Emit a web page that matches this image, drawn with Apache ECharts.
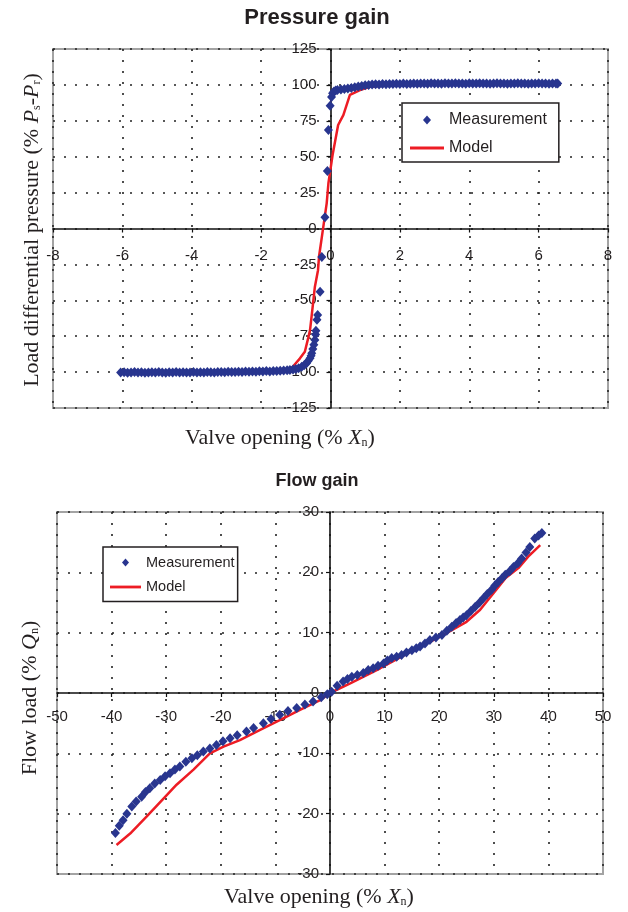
<!DOCTYPE html>
<html>
<head>
<meta charset="utf-8">
<script src="https://cdn.jsdelivr.net/npm/echarts@6/dist/echarts.min.js"></script>
<style>
html,body{margin:0;padding:0;background:#fff;}
#chart{width:628px;height:912px;}
</style>
</head>
<body>
<div id="chart"></div>
<script>
// ---------------- DATA ----------------
// Pressure gain chart: axis ranges [min, max, interval]
const pressureXAxisRange = [-8, 8, 2];
const pressureYAxisRange = [-125, 125, 25];
// Flow gain chart: axis ranges
const flowXAxisRange = [-50, 50, 10];
const flowYAxisRange = [-30, 30, 10];

const seriesNames = ['Measurement', 'Model'];

// Pressure gain – measured points [valve opening %Xn, load diff. pressure %]
const pressureMeasured = [
  [-6.05,-100.3],[-5.95,-100.1],[-5.85,-100.4],[-5.75,-100.2],[-5.65,-100.0],[-5.55,-100.3],[-5.45,-100.1],
  [-5.35,-100.4],[-5.25,-100.2],[-5.15,-100.1],[-5.05,-100.3],[-4.95,-100.0],[-4.85,-100.2],[-4.75,-100.4],
  [-4.65,-100.1],[-4.55,-100.3],[-4.45,-100.0],[-4.35,-100.2],[-4.25,-100.1],[-4.15,-100.3],[-4.05,-100.2],
  [-3.95,-100.0],[-3.85,-100.3],[-3.75,-100.1],[-3.65,-100.2],[-3.55,-99.9],[-3.45,-100.1],[-3.35,-100.2],
  [-3.25,-99.9],[-3.15,-100.0],[-3.05,-100.1],[-2.95,-99.8],[-2.85,-100.0],[-2.75,-99.9],[-2.65,-99.7],
  [-2.55,-99.9],[-2.45,-99.6],[-2.35,-99.8],[-2.25,-99.5],[-2.15,-99.7],[-2.05,-99.4],[-1.95,-99.6],
  [-1.85,-99.3],[-1.75,-99.5],[-1.65,-99.2],[-1.55,-99.3],[-1.45,-99.0],[-1.35,-98.9],[-1.25,-98.7],
  [-1.17,-98.5],[-1.08,-98.2],[-1.00,-97.9],[-0.92,-97.3],[-0.83,-96.2],[-0.76,-95.2],[-0.69,-93.9],
  [-0.64,-92.1],[-0.59,-90.4],[-0.56,-88.6],[-0.54,-86.9],[-0.51,-84.0],[-0.48,-80.9],[-0.45,-77.6],
  [-0.43,-73.8],[-0.42,-71.2],[-0.39,-63.5],[-0.37,-60.2],[-0.30,-44.0],[-0.25,-19.8],[-0.16,7.8],
  [-0.09,40.0],[-0.06,68.6],[-0.01,85.5],[0.03,91.6],[0.06,94.2],[0.10,95.4],[0.15,96.1],
  [0.2,96.4],[0.3,96.8],[0.4,97.1],[0.5,97.5],[0.6,97.9],[0.7,98.4],[0.8,98.8],[0.9,99.3],[1.0,99.7],
  [1.1,100.0],[1.2,100.3],[1.3,100.4],[1.4,100.3],[1.5,100.6],[1.6,100.5],[1.7,100.7],[1.8,100.6],
  [1.9,100.8],[2.0,100.7],[2.1,100.9],[2.2,100.7],[2.3,100.8],[2.4,101.0],[2.5,100.8],[2.6,100.9],
  [2.7,101.0],[2.8,100.8],[2.9,101.1],[3.0,100.9],[3.1,101.0],[3.2,100.8],[3.3,101.1],[3.4,100.9],
  [3.5,101.0],[3.6,101.1],[3.7,100.9],[3.8,101.0],[3.9,100.8],[4.0,101.1],[4.1,100.9],[4.2,101.0],
  [4.3,101.1],[4.4,100.9],[4.5,101.0],[4.6,100.8],[4.7,101.0],[4.8,101.1],[4.9,100.9],[5.0,101.0],
  [5.1,100.8],[5.2,101.0],[5.3,100.9],[5.4,101.1],[5.5,100.9],[5.6,101.0],[5.7,100.8],[5.8,101.0],
  [5.9,100.9],[6.0,101.1],[6.1,100.9],[6.2,101.0],[6.3,100.8],[6.4,101.0],[6.5,100.9],[6.55,101.0]
];

// Pressure gain – model curve
const pressureModel = [
  [-1.3,-98.6],[-1.1,-96.6],[-0.88,-90.4],[-0.74,-85.8],[-0.64,-76.0],[-0.59,-70.7],[-0.54,-60.2],
  [-0.45,-40.5],[-0.36,-29.0],[-0.33,-19.5],[-0.22,-1.0],[-0.11,17.5],[-0.06,31.5],[0.06,51.2],
  [0.22,72.1],[0.37,79.0],[0.56,93.0],[0.85,96.4],[1.14,98.7],[1.52,99.4]
];

// Flow gain – measured points [valve opening %Xn, flow load %Qn]
const flowMeasured = [
  [-39.3,-23.2],[-38.6,-22.0],[-37.9,-21.1],[-37.2,-20.0],[-36.3,-18.8],[-35.5,-18.0],[-34.5,-17.2],
  [-33.8,-16.4],[-33.0,-15.8],[-32.1,-15.0],[-31.1,-14.4],[-30.2,-13.8],[-29.3,-13.3],[-28.4,-12.7],
  [-27.5,-12.2],[-26.4,-11.4],[-25.3,-10.8],[-24.3,-10.3],[-23.2,-9.7],[-22.0,-9.2],[-20.8,-8.6],
  [-19.6,-8.0],[-18.3,-7.5],[-17.0,-7.0],[-15.3,-6.4],[-14.0,-5.8],[-12.2,-5.0],[-10.8,-4.3],
  [-9.2,-3.6],[-7.7,-3.0],[-6.1,-2.5],[-4.6,-1.9],[-3.1,-1.4],[-1.6,-0.7],[-0.5,-0.2],
  [0.3,0.2],[1.3,1.2],[2.4,1.9],[3.2,2.3],[4.0,2.7],[5.0,3.0],[6.1,3.3],[7.0,3.8],[7.9,4.1],
  [8.8,4.5],[9.8,4.9],[10.5,5.4],[11.3,5.8],[12.2,6.0],[13.1,6.3],[14.0,6.7],[15.0,7.1],[15.8,7.4],
  [16.5,7.7],[17.4,8.2],[18.3,8.8],[19.4,9.2],[20.5,9.6],[21.4,10.3],[22.3,11.0],[23.1,11.6],
  [23.8,12.1],[24.4,12.5],[25.0,12.9],[25.8,13.6],[26.6,14.3],[27.4,15.0],[28.1,15.7],[28.8,16.4],
  [29.6,17.1],[30.2,17.8],[30.8,18.4],[31.5,19.0],[32.1,19.6],[32.9,20.2],[33.6,20.9],[34.4,21.5],
  [35.1,22.3],[35.9,23.3],[36.6,24.2],[37.5,25.6],[38.2,26.1],[38.8,26.5]
];

// Flow gain – model curve
const flowModel = [
  [-39.1,-25.2],[-36.6,-23.3],[-33.6,-20.5],[-30.5,-17.5],[-28.1,-15.2],[-25.0,-12.7],[-22.0,-10.0],
  [-19.5,-8.9],[-16.5,-7.8],[-12.8,-6.1],[-9.2,-4.5],[-5.5,-2.8],[-1.8,-1.2],[0,0],[3.7,1.6],
  [9.2,4.1],[15.3,7.1],[20.1,9.3],[25.0,11.8],[27.5,13.8],[29.9,16.5],[32.1,19.0],[34.5,20.7],
  [36.3,22.6],[38.5,24.5]
];

// ---------------- STYLE / LAYOUT ----------------
const TEXT = '#231f20';
const BLUE = '#28358f';
const RED = '#ed1c24';
const SANS = '"Liberation Sans", Arial, sans-serif';
const SERIF = '"Liberation Serif", "Times New Roman", serif';

const grids = [
  { left: 53, top: 49, width: 555, height: 359 },
  { left: 57, top: 512, width: 546, height: 362 }
];

// distance from the grid's left (or bottom) edge to the zero of the axis
function zeroShift(range, size) { return size * (0 - range[0]) / (range[1] - range[0]); }

function valueAxis(gridIndex, range, labelMargin, offset) {
  return {
    type: 'value', gridIndex: gridIndex,
    min: range[0], max: range[1], interval: range[2],
    offset: offset,
    axisLine: { show: true, onZero: false, lineStyle: { color: '#111', width: 1.6 } },
    axisTick: { show: true, length: 4, lineStyle: { color: '#111', width: 1.2 } },
    axisLabel: { margin: labelMargin, fontSize: 15, color: TEXT, fontFamily: SANS,
                 showMinLabel: true, showMaxLabel: true, hideOverlap: false },
    splitLine: { show: true, lineStyle: { type: [2, 9], color: '#222', width: 1.6 } }
  };
}

const richSerif = {
  i: { fontStyle: 'italic', fontSize: 22, fontFamily: SERIF, fill: TEXT },
  s: { fontSize: 12, fontFamily: SERIF, fill: TEXT, verticalAlign: 'bottom', lineHeight: 6 }
};

function label(text, x, y, rot) {
  return {
    type: 'text', x: x, y: y, rotation: rot || 0,
    style: { text: text, fontSize: 22, fontFamily: SERIF, fill: TEXT,
             align: 'center', verticalAlign: 'middle', rich: richSerif }
  };
}

const chart = echarts.init(document.getElementById('chart'), null, { renderer: 'canvas' });

chart.setOption({
  animation: false,
  backgroundColor: '#fff',
  grid: grids.map(g => Object.assign({ show: true, borderColor: '#a3a3a3', borderWidth: 2,
                                       containLabel: false, outerBoundsMode: 'none' }, g)),
  xAxis: [
    valueAxis(0, pressureXAxisRange, 20, -zeroShift(pressureYAxisRange, grids[0].height)),
    valueAxis(1, flowXAxisRange, 16, -zeroShift(flowYAxisRange, grids[1].height))
  ],
  yAxis: [
    valueAxis(0, pressureYAxisRange, 14, -zeroShift(pressureXAxisRange, grids[0].width)),
    valueAxis(1, flowYAxisRange, 11, -zeroShift(flowXAxisRange, grids[1].width))
  ],
  legend: [
    {
      left: 402, top: 103, orient: 'vertical', selectedMode: false,
      itemWidth: 34, itemHeight: 9, itemGap: 12, symbolKeepAspect: true,
      padding: [9, 12, 6, 8], borderColor: TEXT, borderWidth: 1.5, backgroundColor: '#fff',
      itemStyle: { borderWidth: 0 },
      textStyle: { fontSize: 16, lineHeight: 16, color: TEXT, fontFamily: SANS },
      data: [
        { name: seriesNames[0], icon: 'path://M4,0L8,4.5L4,9L0,4.5Z', itemStyle: { color: BLUE, opacity: 1 } },
        { name: seriesNames[1], icon: 'path://M0,0L34,0L34,3L0,3Z', itemStyle: { color: RED, opacity: 1 } }
      ]
    },
    {
      left: 103, top: 547, orient: 'vertical', selectedMode: false,
      itemWidth: 31, itemHeight: 8, itemGap: 9.5, symbolKeepAspect: true,
      padding: [8, 3, 7, 7], borderColor: TEXT, borderWidth: 1.5, backgroundColor: '#fff',
      itemStyle: { borderWidth: 0 },
      textStyle: { fontSize: 14.5, lineHeight: 14.5, color: TEXT, fontFamily: SANS },
      data: [
        { name: seriesNames[0], icon: 'path://M3.5,0L7,4L3.5,8L0,4Z', itemStyle: { color: BLUE, opacity: 1 } },
        { name: seriesNames[1], icon: 'path://M0,0L31,0L31,2.8L0,2.8Z', itemStyle: { color: RED, opacity: 1 } }
      ]
    }
  ],
  graphic: [
    { type: 'text', x: 317, y: 18, style: { text: 'Pressure gain', fontSize: 22, fontWeight: 'bold', fontFamily: SANS, fill: TEXT, align: 'center', verticalAlign: 'middle' } },
    { type: 'text', x: 317, y: 481, style: { text: 'Flow gain', fontSize: 18, fontWeight: 'bold', fontFamily: SANS, fill: TEXT, align: 'center', verticalAlign: 'middle' } },
    label('Valve opening (% {i|X}{s|n})', 280, 438),
    label('Load differential pressure (% {i|P}{s|s}-{i|P}{s|r})', 32, 230, Math.PI / 2),
    label('Valve opening (% {i|X}{s|n})', 319, 897),
    label('Flow load (% {i|Q}{s|n})', 30, 698, Math.PI / 2)
  ],
  series: [
    { type: 'line', name: seriesNames[1], xAxisIndex: 0, yAxisIndex: 0, data: pressureModel,
      symbol: 'none', showSymbol: false, lineStyle: { color: RED, width: 2.5, opacity: 1 }, itemStyle: { color: RED }, z: 2 },
    { type: 'scatter', name: seriesNames[0], xAxisIndex: 0, yAxisIndex: 0, data: pressureMeasured,
      symbol: 'diamond', symbolSize: [9, 10], itemStyle: { color: BLUE, opacity: 1 }, z: 3 },
    { type: 'line', name: seriesNames[1], xAxisIndex: 1, yAxisIndex: 1, data: flowModel,
      symbol: 'none', showSymbol: false, lineStyle: { color: RED, width: 2.5, opacity: 1 }, itemStyle: { color: RED }, z: 2 },
    { type: 'scatter', name: seriesNames[0], xAxisIndex: 1, yAxisIndex: 1, data: flowMeasured,
      symbol: 'diamond', symbolSize: [9, 10], itemStyle: { color: BLUE, opacity: 1 }, z: 3 }
  ]
});
</script>
</body>
</html>
